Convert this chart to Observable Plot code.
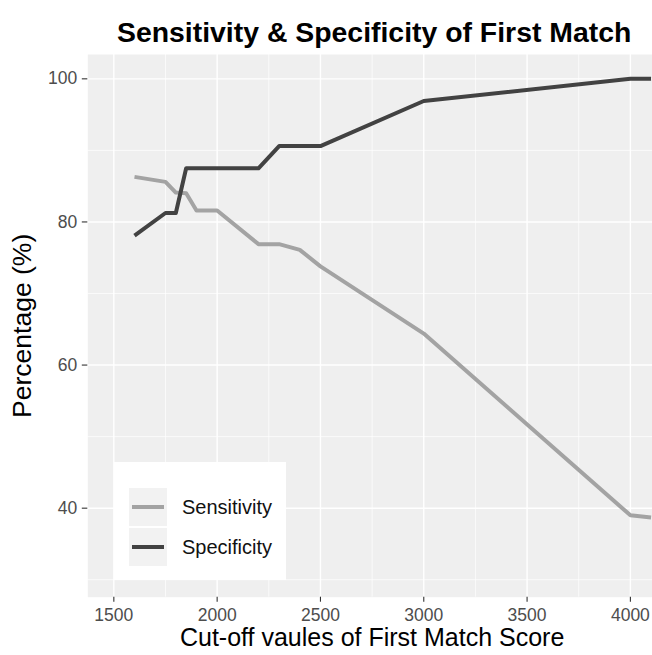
<!DOCTYPE html>
<html><head><meta charset="utf-8">
<script src="https://cdn.jsdelivr.net/npm/d3@7"></script>
<script src="https://cdn.jsdelivr.net/npm/@observablehq/plot@0.6"></script>
<style>
html,body{margin:0;padding:0;background:#fff;overflow:hidden;}
#wrap{position:relative;width:652px;height:655px;font-family:"Liberation Sans",Arial,Helvetica,sans-serif;}
#legend{position:absolute;left:114px;top:462px;width:172px;height:118px;background:#fff;}
.key{position:absolute;left:15px;width:38px;height:38px;background:#f2f2f2;}
.key span{position:absolute;left:3px;top:17px;width:32px;height:4px;}
.lab{position:absolute;left:68px;font-size:20px;color:#111;line-height:20px;}
</style></head><body><div id="wrap"></div>
<script>
const cutoffs = [1600, 1750, 1800, 1850, 1900, 2000, 2200, 2300, 2400, 2500, 3000, 4000, 4100];
const sensitivity = [86.3, 85.6, 84.1, 84.0, 81.6, 81.6, 76.9, 76.9, 76.1, 73.8, 64.4, 39.0, 38.7];
const specificity = [78.1, 81.25, 81.25, 87.5, 87.5, 87.5, 87.5, 90.6, 90.6, 90.6, 96.9, 100, 100];
const seriesNames = ["Sensitivity", "Specificity"];
const seriesColors = ["#a3a3a3", "#424242"];
const xMajor = [1500, 2000, 2500, 3000, 3500, 4000];
const xMinor = [1750, 2250, 2750, 3250, 3750];
const yMajor = [40, 60, 80, 100];
const yMinor = [30, 50, 70, 90];
const titleText = "Sensitivity & Specificity of First Match";
const xLabel = "Cut-off vaules of First Match Score";
const yLabel = "Percentage (%)";

const rows = [];
cutoffs.forEach((c, i) => {
  rows.push({cutoff: c, value: sensitivity[i], series: seriesNames[0]});
  rows.push({cutoff: c, value: specificity[i], series: seriesNames[1]});
});

const font = '"Liberation Sans", Arial, Helvetica, sans-serif';
const plot = Plot.plot({
  width: 652, height: 655,
  marginTop: 54, marginBottom: 58.3, marginLeft: 87.3, marginRight: 0,
  x: {domain: [1374, 4107]},
  y: {domain: [27.56, 103.4]},
  color: {domain: seriesNames, range: seriesColors},
  style: {fontFamily: font, background: "transparent", overflow: "visible"},
  marks: [
    Plot.frame({fill: "#efefef", stroke: null}),
    Plot.gridX(xMinor, {stroke: "#fff", strokeOpacity: 1, strokeWidth: 0.7}),
    Plot.gridY(yMinor, {stroke: "#fff", strokeOpacity: 1, strokeWidth: 0.7}),
    Plot.gridX(xMajor, {stroke: "#fff", strokeOpacity: 1, strokeWidth: 1.4}),
    Plot.gridY(yMajor, {stroke: "#fff", strokeOpacity: 1, strokeWidth: 1.4}),
    Plot.line(rows, {x: "cutoff", y: "value", z: "series", stroke: "series", strokeWidth: 4, strokeLinejoin: "round", strokeLinecap: "butt", clip: true}),
    Plot.axisX(xMajor, {tickSize: 5, tickPadding: 6, fontSize: 17.5, stroke: "#333", fill: "#4d4d4d", strokeWidth: 1.1, tickFormat: d => String(d), label: null}),
    Plot.axisY(yMajor, {tickSize: 5.5, tickPadding: 5, fontSize: 17.5, stroke: "#333", fill: "#4d4d4d", strokeWidth: 1.1, tickFormat: d => String(d), label: null}),
    Plot.text([titleText], {frameAnchor: "top", lineAnchor: "middle", textAnchor: "middle", dy: -22, dx: 4, fontSize: 28.4, fontWeight: "bold", fill: "#000"}),
    Plot.text([xLabel], {frameAnchor: "bottom", lineAnchor: "middle", textAnchor: "middle", dy: 41, dx: 2, fontSize: 25, fill: "#000"}),
    Plot.text([yLabel], {frameAnchor: "left", lineAnchor: "middle", textAnchor: "middle", dx: -65, rotate: -90, fontSize: 26.5, fill: "#000"})
  ]
});
const wrap = document.getElementById("wrap");
wrap.appendChild(plot);

const legend = document.createElement("div");
legend.id = "legend";
seriesNames.forEach((name, i) => {
  const key = document.createElement("div");
  key.className = "key";
  key.style.top = (26 + i * 40) + "px";
  const sw = document.createElement("span");
  sw.style.background = seriesColors[i];
  key.appendChild(sw);
  legend.appendChild(key);
  const lab = document.createElement("div");
  lab.className = "lab";
  lab.style.top = (35 + i * 40) + "px";
  lab.textContent = name;
  legend.appendChild(lab);
});
wrap.appendChild(legend);
</script></body></html>
